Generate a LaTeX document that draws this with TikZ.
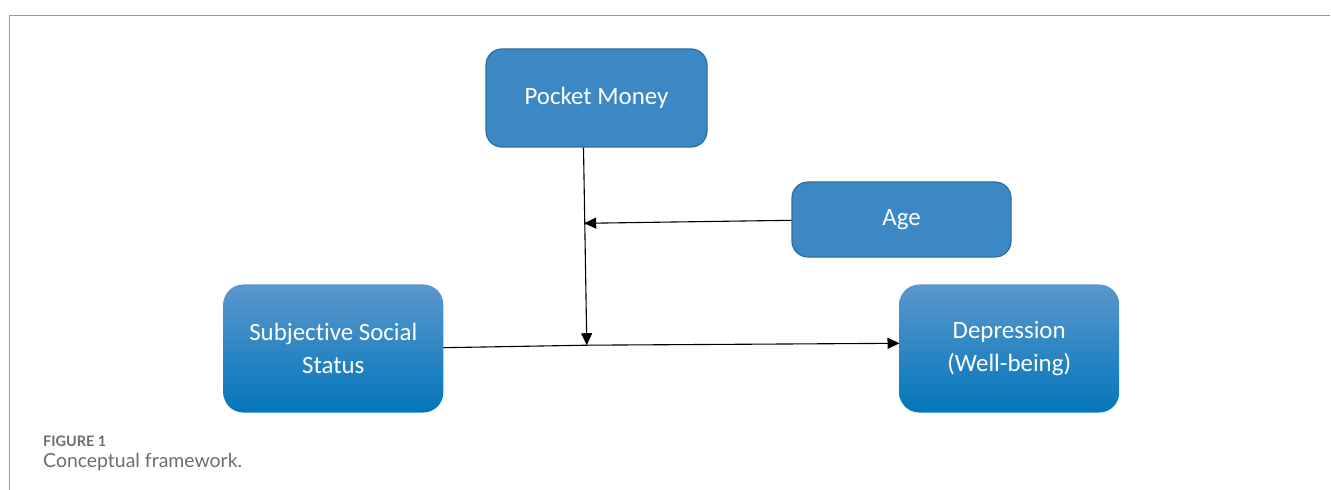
\documentclass[tikz,border=0pt]{standalone}
\usepackage{fontspec}
\setmainfont{Carlito}[Ligatures={NoCommon}]
\newfontfamily\capfont{Lato}
\usetikzlibrary{arrows.meta}
\definecolor{boxfill}{HTML}{3B88C4}
\definecolor{boxedge}{HTML}{2F6E9F}
\definecolor{gradtop}{HTML}{5B97CC}
\definecolor{gradbot}{HTML}{0276BA}
\definecolor{framegray}{HTML}{9A9A9A}
\definecolor{capgray}{HTML}{6E6E6E}
\tikzset{
  flatbox/.style={draw=boxedge, line width=1.2bp, fill=boxfill, rounded corners=16bp,
    text=white, font=\fontsize{25}{33}\selectfont, align=center, inner sep=0pt},
  gradbox/.style={draw=none, top color=gradtop, bottom color=gradbot, rounded corners=20bp,
    text=white, font=\fontsize{25}{33}\selectfont, align=center, inner sep=0pt,
    minimum width=220bp, minimum height=128bp},
  link/.style={draw=black, line width=1.1bp, -{Triangle[length=12bp,width=11bp]}},
  framestyle/.style={draw=framegray, line width=1.3bp}
}
\begin{document}
\begin{tikzpicture}[x=1bp, y=-1bp]
\useasboundingbox (0,0) rectangle (1331,490);
% frame
\coordinate (ftl) at (9.5,15.5);
\coordinate (ftr) at (1330,15.5);
\coordinate (fbl) at (9.5,490);
\draw[framestyle] (ftr) -- (ftl) -- (fbl);
% nodes
\node[flatbox, minimum width=221bp, minimum height=98bp] (pm) at (596.5,98) {Pocket Money};
\node[flatbox, minimum width=219bp, minimum height=75bp] (age) at (901.5,219.5) {Age};
\node[gradbox] (sss) at (333.3,348.5) {Subjective Social\\Status};
\node[gradbox] (dep) at (1009.2,348.5) {Depression\\(Well-being)};
% connector points
\coordinate (pmout) at (583.5,147.5);
\coordinate (agein) at (584.2,223.3);
\coordinate (sssout) at (443.3,347.7);
\coordinate (depin) at (899.5,343.3);
\coordinate (modpt) at (586.8,345.2);
\draw[link] (pmout) -- (modpt);
\draw[link] (age.west |- 0,220.3) -- (agein);
\draw[draw=black, line width=1.1bp] (sssout) -- (modpt);
\draw[link] (modpt) -- (depin);
% caption
\node[anchor=base west, inner sep=0pt, text=capgray, font=\capfont\bfseries\fontsize{14.5}{16}\selectfont] (figlabel) at (43,446) {FIGURE 1};
\node[anchor=base west, inner sep=0pt, text=capgray, font=\capfont\fontsize{19.5}{22}\selectfont] (figcap) at (43,467.5) {Conceptual framework.};
\end{tikzpicture}
\end{document}
